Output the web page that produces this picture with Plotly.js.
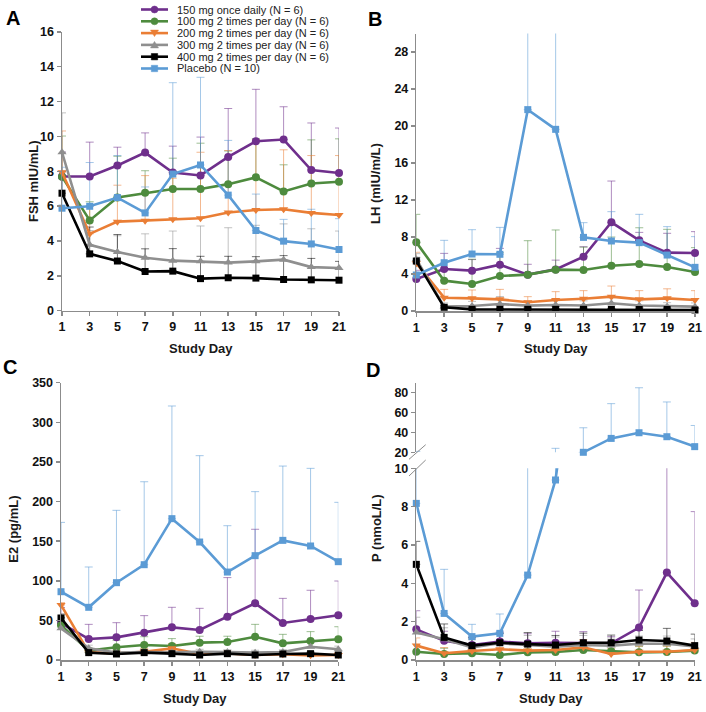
<!DOCTYPE html>
<html>
<head>
<meta charset="utf-8">
<script src="https://cdn.plot.ly/plotly-3.0.1.min.js"></script>
<style>html,body{margin:0;padding:0;background:#fff}#chart{width:706px;height:712px}</style>
</head>
<body>
<div id="chart"></div>
<script>
// ---------------- DATA ----------------
const days = [1, 3, 5, 7, 9, 11, 13, 15, 17, 19, 21];
const dayTicks = [1, 3, 5, 7, 9, 11, 13, 15, 17, 19, 21];
const groupNames = ['150 mg once daily (N = 6)', '100 mg 2 times per day (N = 6)',
  '200 mg 2 times per day (N = 6)', '300 mg 2 times per day (N = 6)',
  '400 mg 2 times per day (N = 6)', 'Placebo (N = 10)'];

// A: FSH (mIU/mL) mean and +SD
const fsh150 = [7.70, 7.70, 8.33, 9.07, 7.93, 7.76, 8.82, 9.72, 9.82, 8.07, 7.90];
const fsh150Sd = [1.40, 1.97, 1.05, 1.13, 1.51, 2.20, 2.78, 2.98, 1.88, 2.70, 2.58];
const fsh100 = [7.69, 5.18, 6.50, 6.76, 6.98, 6.98, 7.26, 7.65, 6.84, 7.30, 7.40];
const fsh100Sd = [2.33, 1.07, 2.36, 1.27, 1.77, 2.63, 1.90, 2.22, 1.53, 2.50, 2.46];
const fsh200 = [7.94, 4.41, 5.11, 5.16, 5.24, 5.30, 5.63, 5.78, 5.82, 5.61, 5.49];
const fsh200Sd = [2.37, 1.59, 2.09, 2.59, 2.36, 3.79, 3.56, 4.02, 3.41, 3.29, 3.41];
const fsh300 = [9.09, 3.78, 3.37, 3.04, 2.87, 2.83, 2.76, 2.83, 2.93, 2.50, 2.45];
const fsh300Sd = [2.26, 0.82, 0.93, 1.37, 1.70, 2.03, 2.00, 2.07, 2.05, 2.20, 2.12];
const fsh400 = [6.74, 3.26, 2.85, 2.25, 2.27, 1.84, 1.89, 1.87, 1.79, 1.77, 1.75];
const fsh400Sd = [1.26, 1.54, 1.52, 1.30, 1.29, 1.28, 1.23, 1.23, 1.37, 1.23, 1.08];
const fshPbo = [5.88, 5.99, 6.49, 5.61, 7.84, 8.36, 6.63, 4.60, 3.99, 3.83, 3.51];
const fshPboSd = [2.35, 2.51, 2.41, 1.49, 5.24, 5.03, 3.14, 2.09, 1.25, 1.99, 1.77];

// B: LH (mIU/mL)
const lh150 = [3.46, 4.54, 4.36, 5.01, 3.93, 4.50, 5.87, 9.59, 7.64, 6.31, 6.27];
const lh150Sd = [0.94, 1.69, 1.20, 1.76, 1.12, 1.00, 1.08, 4.46, 0.86, 2.09, 2.31];
const lh100 = [7.42, 3.28, 2.92, 3.78, 3.93, 4.47, 4.43, 4.90, 5.08, 4.76, 4.22];
const lh100Sd = [3.03, 1.22, 2.68, 2.52, 3.67, 4.29, 2.47, 3.10, 3.92, 4.07, 2.63];
const lh200 = [5.15, 1.44, 1.37, 1.26, 0.94, 1.19, 1.33, 1.55, 1.26, 1.37, 1.19];
const lh200Sd = [1.20, 0.90, 0.90, 1.08, 0.61, 0.90, 0.87, 1.15, 0.94, 1.03, 1.01];
const lh300 = [5.60, 0.47, 0.54, 0.76, 0.58, 0.65, 0.60, 0.83, 0.60, 0.50, 0.47];
const lh300Sd = [0.60, 0.40, 0.50, 0.80, 0.50, 0.60, 0.50, 0.60, 0.50, 0.40, 0.40];
const lh400 = [5.40, 0.40, 0.18, 0.18, 0.18, 0.18, 0.18, 0.18, 0.16, 0.16, 0.11];
const lh400Sd = [0.40, 0.20, 0.10, 0.10, 0.10, 0.10, 0.10, 0.10, 0.10, 0.10, 0.10];
const lhPbo = [3.89, 5.22, 6.16, 6.13, 21.77, 19.64, 7.96, 7.57, 7.39, 6.05, 4.72];
const lhPboSd = [1.71, 2.42, 2.63, 2.91, 14.0, 16.0, 1.59, 3.17, 3.06, 3.07, 3.32];

// C: E2 (pg/mL)
const e2150 = [46.3, 26.5, 28.6, 34.5, 41.2, 37.9, 54.7, 71.5, 46.7, 51.7, 56.4];
const e2150Sd = [20.0, 18.5, 18.5, 21.5, 25.3, 27.3, 49.3, 93.5, 31.1, 36.3, 43.3];
const e2100 = [44.0, 11.8, 16.0, 18.9, 17.7, 21.9, 22.7, 29.4, 21.0, 24.0, 26.1];
const e2100Sd = [10.0, 3.2, 9.0, 10.5, 9.3, 8.1, 7.3, 15.6, 11.4, 11.8, 15.9];
const e2200 = [69.4, 9.7, 8.4, 10.5, 14.7, 7.6, 8.4, 6.3, 7.2, 5.9, 6.3];
const e2200Sd = [3.0, 4.0, 4.0, 4.0, 6.0, 3.0, 3.0, 3.0, 3.0, 3.0, 3.0];
const e2300 = [40.0, 14.7, 9.3, 10.0, 9.7, 10.5, 10.0, 9.3, 10.0, 16.8, 13.5];
const e2300Sd = [5.0, 4.0, 3.0, 3.0, 3.0, 3.0, 3.0, 3.0, 3.0, 5.0, 4.0];
const e2400 = [53.0, 9.3, 7.6, 9.3, 8.0, 6.3, 8.0, 6.3, 7.6, 8.0, 6.3];
const e2400Sd = [5.0, 3.0, 2.0, 2.0, 2.0, 2.0, 2.0, 2.0, 2.0, 2.0, 2.0];
const e2Pbo = [86.2, 66.5, 97.6, 120.3, 178.4, 148.9, 111.0, 131.7, 151.0, 143.9, 124.1];
const e2PboSd = [87.5, 50.9, 91.3, 104.7, 142.2, 109.0, 58.5, 80.8, 93.8, 98.0, 74.9];

// D: P (nmol/L)
const p150 = [1.60, 1.00, 0.78, 0.96, 0.87, 0.90, 0.88, 0.87, 1.69, 4.56, 2.96];
const p150Sd = [0.97, 0.50, 0.40, 0.50, 0.50, 0.60, 0.60, 0.35, 1.96, 9.50, 4.78];
const p100 = [0.43, 0.31, 0.35, 0.26, 0.40, 0.42, 0.52, 0.45, 0.40, 0.42, 0.49];
const p100Sd = [0.30, 0.30, 0.30, 0.30, 0.30, 0.30, 0.30, 0.30, 0.30, 0.30, 0.30];
const p200 = [0.75, 0.35, 0.47, 0.56, 0.49, 0.52, 0.66, 0.31, 0.43, 0.43, 0.52];
const p200Sd = [0.40, 0.30, 0.30, 0.30, 0.30, 0.40, 0.40, 0.30, 0.30, 0.30, 0.40];
const p300 = [1.43, 1.08, 0.66, 0.87, 0.78, 0.70, 0.78, 0.75, 0.85, 0.85, 0.70];
const p300Sd = [0.80, 0.60, 0.40, 0.50, 0.50, 0.50, 0.50, 0.40, 0.40, 0.40, 0.40];
const p400 = [4.99, 1.18, 0.75, 0.90, 0.83, 0.78, 0.90, 0.90, 1.04, 0.99, 0.75];
const p400Sd = [1.20, 0.70, 0.40, 0.50, 0.60, 0.50, 0.50, 0.40, 0.50, 0.66, 0.60];
const pPbo = [8.17, 2.43, 1.22, 1.39, 4.43, 9.39, 20.0, 34.0, 39.7, 35.7, 25.7];
const pPboSd = [12.8, 2.30, 0.64, 1.01, 10.6, 14.6, 24.7, 35.0, 45.3, 35.0, 21.3];

// ---------------- STYLE ----------------
const W = 706, H = 712;
const px = v => v / W;
const py = v => 1 - v / H;
const FONT = 'Liberation Sans, Arial, Helvetica, sans-serif';
const colors = ['#6f2f8c', '#4e8b3e', '#ea7e35', '#8f8f8f', '#000000', '#5b9bd5'];
const errColors = ['rgba(111,47,140,0.55)', 'rgba(78,139,62,0.55)', 'rgba(234,126,53,0.55)',
  'rgba(143,143,143,0.55)', 'rgba(0,0,0,0.55)', 'rgba(91,155,213,0.55)'];
const symbols = ['circle', 'circle', 'triangle-down', 'triangle-up', 'square', 'square'];
const sizes = [8, 8, 8, 8, 7, 7];

const panels = [
  {xa: 'x', ya: 'y', lo: 0, hi: 16, means: [fsh150, fsh100, fsh200, fsh300, fsh400, fshPbo],
   sds: [fsh150Sd, fsh100Sd, fsh200Sd, fsh300Sd, fsh400Sd, fshPboSd], groups: [0,1,2,3,4,5]},
  {xa: 'x2', ya: 'y2', lo: 0, hi: 30, means: [lh150, lh100, lh200, lh300, lh400, lhPbo],
   sds: [lh150Sd, lh100Sd, lh200Sd, lh300Sd, lh400Sd, lhPboSd], groups: [0,1,2,3,4,5]},
  {xa: 'x3', ya: 'y3', lo: 0, hi: 350, means: [e2150, e2100, e2200, e2300, e2400, e2Pbo],
   sds: [e2150Sd, e2100Sd, e2200Sd, e2300Sd, e2400Sd, e2PboSd], groups: [0,1,2,3,4,5]},
  {xa: 'x4', ya: 'y4', lo: 0, hi: 10, means: [p150, p100, p200, p300, p400, pPbo],
   sds: [p150Sd, p100Sd, p200Sd, p300Sd, p400Sd, pPboSd], groups: [0,1,2,3,4,5]},
  {xa: 'x4', ya: 'y5', lo: 20, hi: 90, means: [pPbo], sds: [pPboSd], groups: [5]}
];

const errTraces = [], mainTraces = [];
panels.forEach(p => {
  p.groups.forEach((g, k) => {
    const m = p.means[k], s = p.sds[k];
    const overflow = m.some((v, i) => v + s[i] > p.hi || v < p.lo);
    errTraces.push({
      type: 'scatter', mode: 'lines', x: days, y: m, xaxis: p.xa, yaxis: p.ya,
      line: {width: 0, color: 'rgba(0,0,0,0)'}, showlegend: false, hoverinfo: 'skip',
      cliponaxis: overflow,
      error_y: {type: 'data', symmetric: false, array: s, arrayminus: s.map(() => 0),
        color: errColors[g], thickness: 1, width: 4}
    });
    mainTraces.push({
      type: 'scatter', mode: 'lines+markers', x: days, y: m, xaxis: p.xa, yaxis: p.ya,
      name: groupNames[g], showlegend: false, cliponaxis: false,
      line: {color: colors[g], width: 2.6},
      marker: {color: colors[g], symbol: symbols[g], size: sizes[g]}
    });
  });
});

const tickFont = {family: FONT, size: 12.5, color: '#111', weight: 700};
const axBase = {showgrid: false, zeroline: false, showline: true, linecolor: '#8c8c8c', linewidth: 1.5,
  ticks: 'outside', ticklen: 4, tickwidth: 1.5, tickcolor: '#8c8c8c', tickfont: tickFont, fixedrange: true};
const bold = tv => tv.map(v => '<b>' + v + '</b>');
const xAx = (d, anchor) => Object.assign({}, axBase, {domain: d, anchor: anchor, range: [1, 21],
  tickmode: 'array', tickvals: dayTicks, ticktext: bold(dayTicks)});
const yAx = (d, anchor, r, tv) => Object.assign({}, axBase, {domain: d, anchor: anchor, range: r,
  tickmode: 'array', tickvals: tv, ticktext: bold(tv)});

const geoA = {x0: 62, x1: 339, y0: 310.7, y1: 31.8};
const geoB = {x0: 416.3, x1: 695, y0: 311, y1: 33.5};
const geoC = {x0: 61, x1: 338.3, y0: 660, y1: 382.7};
const geoD = {x0: 416.3, x1: 694.7, y0: 660, ymid0: 468.3, ymid1: 452.3, y1: 382.8};

const layout = {
  width: W, height: H, margin: {l: 0, r: 0, t: 0, b: 0},
  paper_bgcolor: '#fff', plot_bgcolor: 'rgba(0,0,0,0)', showlegend: false,
  font: {family: FONT, color: '#1a1a1a'},
  xaxis: xAx([px(geoA.x0), px(geoA.x1)], 'y'),
  yaxis: yAx([py(geoA.y0), py(geoA.y1)], 'x', [0, 16], [0, 2, 4, 6, 8, 10, 12, 14, 16]),
  xaxis2: xAx([px(geoB.x0), px(geoB.x1)], 'y2'),
  yaxis2: yAx([py(geoB.y0), py(geoB.y1)], 'x2', [0, 30], [0, 4, 8, 12, 16, 20, 24, 28]),
  xaxis3: xAx([px(geoC.x0), px(geoC.x1)], 'y3'),
  yaxis3: yAx([py(geoC.y0), py(geoC.y1)], 'x3', [0, 350], [0, 50, 100, 150, 200, 250, 300, 350]),
  xaxis4: xAx([px(geoD.x0), px(geoD.x1)], 'y4'),
  yaxis4: yAx([py(geoD.y0), py(geoD.ymid0)], 'x4', [0, 10], [0, 2, 4, 6, 8, 10]),
  yaxis5: yAx([py(geoD.ymid1), py(geoD.y1)], 'x4', [20, 90], [20, 40, 60, 80]),
  annotations: [],
  shapes: []
};

const ann = (text, x, y, opts) => Object.assign({text: text, x: px(x), y: py(y), xref: 'paper', yref: 'paper',
  showarrow: false, xanchor: 'center', yanchor: 'middle'}, opts);
const titleFont = {family: FONT, size: 13, color: '#1a1a1a', weight: 700};
const letterFont = {family: FONT, size: 20, color: '#000', weight: 700};

layout.annotations.push(
  ann('<b>A</b>', 13, 18.5, {font: letterFont}), ann('<b>B</b>', 375, 19, {font: letterFont}),
  ann('<b>C</b>', 9.5, 367, {font: letterFont}), ann('<b>D</b>', 373, 370, {font: letterFont}),
  ann('<b>FSH mIU/mL)</b>', 33, 181, {font: titleFont, textangle: -90}),
  ann('<b>LH (mIU/m/L)</b>', 376, 184, {font: titleFont, textangle: -90}),
  ann('<b>E2 (pg/mL)</b>', 12.7, 529, {font: titleFont, textangle: -90}),
  ann('<b>P (nmoL/L)</b>', 376, 528, {font: titleFont, textangle: -90}),
  ann('<b>Study Day</b>', 200.5, 348, {font: titleFont}),
  ann('<b>Study Day</b>', 555.5, 348, {font: titleFont}),
  ann('<b>Study Day</b>', 195, 698, {font: titleFont}),
  ann('<b>Study Day</b>', 551, 698, {font: titleFont})
);

// axis break marks on panel D
[[409, 459.3, 425.7, 444.7], [409, 476, 425.7, 460]].forEach(b => {
  layout.shapes.push({type: 'line', xref: 'paper', yref: 'paper', x0: px(b[0]), y0: py(b[1]),
    x1: px(b[2]), y1: py(b[3]), line: {color: '#8c8c8c', width: 1}});
});

// legend (drawn manually to match compact row spacing)
const legX0 = 141, legX1 = 168, legMid = 154.5, legText = 176, legTop = 9.5, legStep = 11.8;
groupNames.forEach((name, g) => {
  const yc = legTop + g * legStep;
  layout.shapes.push({type: 'line', xref: 'paper', yref: 'paper', x0: px(legX0), x1: px(legX1),
    y0: py(yc), y1: py(yc), line: {color: colors[g], width: 2.6}});
  const r = 3.5;
  let sh;
  if (symbols[g] === 'circle') {
    sh = {type: 'circle', x0: px(legMid - r), x1: px(legMid + r), y0: py(yc + r), y1: py(yc - r)};
  } else if (symbols[g] === 'square') {
    sh = {type: 'rect', x0: px(legMid - 3.2), x1: px(legMid + 3.2), y0: py(yc + 3.2), y1: py(yc - 3.2)};
  } else if (symbols[g] === 'triangle-down') {
    sh = {type: 'path', path: `M ${px(legMid - 4)} ${py(yc - 3)} L ${px(legMid + 4)} ${py(yc - 3)} L ${px(legMid)} ${py(yc + 3.5)} Z`};
  } else {
    sh = {type: 'path', path: `M ${px(legMid - 4)} ${py(yc + 3)} L ${px(legMid + 4)} ${py(yc + 3)} L ${px(legMid)} ${py(yc - 3.5)} Z`};
  }
  layout.shapes.push(Object.assign({xref: 'paper', yref: 'paper', fillcolor: colors[g],
    line: {color: colors[g], width: 0.5}}, sh));
  layout.annotations.push(ann(name, legText, yc, {xanchor: 'left', borderpad: 0,
    font: {family: FONT, size: 11, color: '#222'}}));
});

Plotly.newPlot('chart', errTraces.concat(mainTraces), layout, {staticPlot: true, displayModeBar: false});
</script>
</body>
</html>
